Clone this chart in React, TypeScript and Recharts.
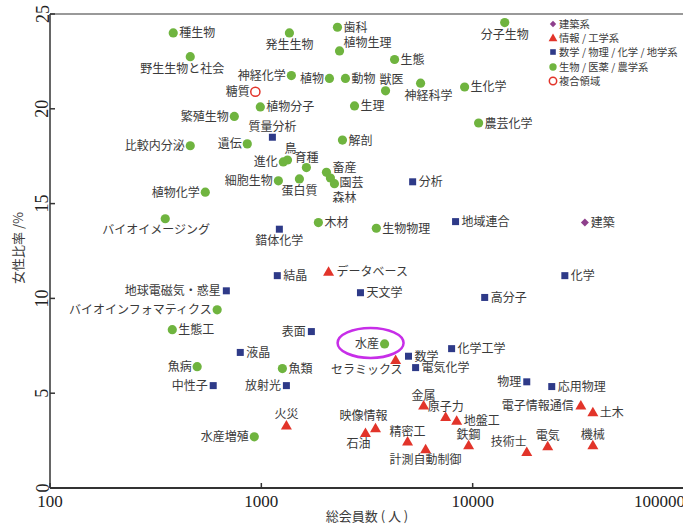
import React from 'react';
import { ScatterChart, Scatter, XAxis, YAxis, ReferenceLine, ReferenceDot } from 'recharts';

// ---- data ----
const xTicks = [100, 1000, 10000, 100000];
const yTicks = [0, 5, 10, 15, 20, 25];

const bioNames = ['種生物', '発生生物', '野生生物と社会', '神経化学', '植物', '植物分子', '繁殖生物', '比較内分泌', '遺伝', '進化', '鳥', '育種', '細胞生物', '蛋白質', '畜産', '園芸', '森林', '植物化学', 'バイオイメージング', '木材', '歯科', '植物生理', '分子生物', '生態', '動物', '獣医', '神経科学', '生化学', '生理', '農芸化学', '解剖', '生物物理', 'バイオインフォマティクス', '生態工', '魚病', '魚類', '水産', '水産増殖'];
const bioMembers = [383, 1358, 461, 1387, 2100, 989, 745, 461, 858, 1270, 1330, 1634, 1204, 1514, 2033, 2123, 2218, 543, 351, 1862, 2292, 2344, 14180, 4270, 2500, 3870, 5670, 9160, 2760, 10670, 2420, 3500, 618, 379, 497, 1258, 3830, 926];
const bioRatio = [24.0, 24.0, 22.75, 21.75, 21.6, 20.1, 19.6, 18.05, 18.15, 17.2, 17.3, 16.9, 16.2, 16.3, 16.65, 16.35, 16.05, 15.6, 14.2, 14.0, 24.3, 23.05, 24.55, 22.6, 21.6, 20.95, 21.35, 21.15, 20.15, 19.25, 18.35, 13.7, 9.4, 8.35, 6.4, 6.3, 7.6, 2.7];

const sciNames = ['質量分析', '錯体化学', '分析', '地域連合', '結晶', '地球電磁気・惑星', '表面', '液晶', '中性子', '放射光', '化学', '天文学', '高分子', '数学', '化学工学', '電気化学', '物理', '応用物理'];
const sciMembers = [1128, 1217, 5200, 8300, 1190, 683, 1725, 795, 592, 1314, 27300, 2945, 11400, 4970, 7950, 5370, 18030, 23670];
const sciRatio = [18.5, 13.65, 16.15, 14.05, 11.2, 10.4, 8.25, 7.15, 5.4, 5.4, 11.2, 10.3, 10.05, 6.95, 7.35, 6.35, 5.6, 5.35];

const engNames = ['データベース', 'セラミックス', '火災', '金属', '原子力', '地盤工', '電子情報通信', '土木', '映像情報', '石油', '精密工', '計測自動制御', '鉄鋼', '技術士', '電気', '機械'];
const engMembers = [2080, 4320, 1314, 5860, 7450, 8400, 32500, 37050, 3470, 3110, 4920, 5990, 9570, 18030, 22650, 37050];
const engRatio = [11.4, 6.75, 3.3, 4.35, 3.75, 3.55, 4.35, 4.0, 3.15, 2.9, 2.45, 2.05, 2.25, 1.9, 2.2, 2.25];

const archNames = ['建築'];
const archMembers = [33950];
const archRatio = [14.0];

const mixNames = ['糖質'];
const mixMembers = [937];
const mixRatio = [20.9];

const highlightName = '水産';

const legendLabels = ['建築系', '情報 / 工学系', '数学 / 物理 / 化学 / 地学系', '生物 / 医薬 / 農学系', '複合領域'];

// ---- build ----
type Pt = { name: string; members: number; ratio: number };
const build = (n: string[], m: number[], r: number[]): Pt[] => n.map((name, i) => ({ name, members: m[i], ratio: r[i] }));
const bioData = build(bioNames, bioMembers, bioRatio);
const sciData = build(sciNames, sciMembers, sciRatio);
const engData = build(engNames, engMembers, engRatio);
const archData = build(archNames, archMembers, archRatio);
const mixData = build(mixNames, mixMembers, mixRatio);
const hl = bioData.find((d) => d.name === highlightName)!;

// ---- styles ----
const GREEN = '#6fb43f';
const BLUE = '#2e3a88';
const RED = '#e2342a';
const PURPLE = '#8e3f8c';
const TEXT = '#3a3a3a';
const CJK = '"Noto Sans CJK JP", "Noto Sans", sans-serif';
const SERIF = '"Liberation Serif", "DejaVu Serif", serif';

type Anchor = 'start' | 'middle' | 'end';
const R: [number, number, Anchor] = [6, 4.5, 'start'];
const L: [number, number, Anchor] = [-5.5, 4.5, 'end'];
const T: [number, number, Anchor] = [0, -6, 'middle'];
const B: [number, number, Anchor] = [0, 16, 'middle'];

const labelLayout: Record<string, [number, number, Anchor]> = {
  種生物: R, 発生生物: B, 野生生物と社会: [-8, 16, 'middle'], 神経化学: L, 植物: L, 糖質: L, 植物分子: R,
  繁殖生物: L, 質量分析: T, 比較内分泌: L, 遺伝: L, 進化: L, 鳥: [3, -7, 'middle'], 育種: T, 細胞生物: L,
  蛋白質: B, 畜産: [6, 0, 'start'], 園芸: [9, 8.5, 'start'], 森林: [10, 18.5, 'middle'], 植物化学: L,
  バイオイメージング: [-9, 15, 'middle'], 錯体化学: B, 木材: R, 歯科: R, 植物生理: [4, -4, 'start'],
  分子生物: B, 生態: R, 動物: R, 獣医: [6, -7, 'middle'], 神経科学: [8, 17, 'middle'], 生化学: R, 生理: R,
  農芸化学: R, 解剖: R, 生物物理: R, 分析: R, 地域連合: R, 建築: R, 結晶: R, データベース: [8, 4.5, 'start'],
  地球電磁気・惑星: L, バイオインフォマティクス: L, 生態工: R, 表面: L, 液晶: R, 魚病: L, 魚類: R,
  中性子: L, 放射光: L, 火災: [0, -7, 'middle'], 水産増殖: L, 水産: L, 化学: R, 天文学: R, 高分子: R,
  セラミックス: [7, 14, 'end'], 数学: R, 化学工学: R, 電気化学: R, 物理: L, 応用物理: R,
  金属: [0, -6, 'middle'], 原子力: [0, -6, 'middle'], 地盤工: [7, 4.5, 'start'], 電子情報通信: [-7, 4.5, 'end'],
  土木: [7, 4.5, 'start'], 映像情報: [12, -8, 'end'], 石油: [5, 15, 'end'], 精密工: T, 計測自動制御: [0, 15, 'middle'],
  鉄鋼: T, 技術士: [0, -6, 'end'], 電気: T, 機械: T,
};

const Label = ({ cx, cy, name }: { cx: number; cy: number; name: string }) => {
  const [dx, dy, anchor] = labelLayout[name] || R;
  return (
    <text x={cx + dx} y={cy + dy} textAnchor={anchor} fontSize={12} fontFamily={CJK} fill={TEXT}>
      {name}
    </text>
  );
};

type Kind = 'circle' | 'square' | 'triangle' | 'diamond' | 'open';
const Marker = ({ kind, cx, cy, s = 1 }: { kind: Kind; cx: number; cy: number; s?: number }) => {
  if (kind === 'circle') return <circle cx={cx} cy={cy} r={4.6 * s} fill={GREEN} />;
  if (kind === 'square') return <rect x={cx - 3.5 * s} y={cy - 3.5 * s} width={7 * s} height={7 * s} fill={BLUE} />;
  if (kind === 'triangle')
    return <polygon points={`${cx},${cy - 5.5 * s} ${cx + 5.5 * s},${cy + 4 * s} ${cx - 5.5 * s},${cy + 4 * s}`} fill={RED} />;
  if (kind === 'diamond')
    return <polygon points={`${cx},${cy - 4 * s} ${cx + 4 * s},${cy} ${cx},${cy + 4 * s} ${cx - 4 * s},${cy}`} fill={PURPLE} />;
  return <circle cx={cx} cy={cy} r={4.6 * s} fill="#fff" stroke={RED} strokeWidth={1.5} />;
};

const makeShape = (kind: Kind) => (props: any) => {
  const { cx, cy, payload } = props;
  if (cx == null || cy == null) return <g />;
  return (
    <g>
      <Marker kind={kind} cx={cx} cy={cy} />
      <Label cx={cx} cy={cy} name={payload.name} />
    </g>
  );
};

const XTick = (props: any) => {
  const { x, y, payload, index } = props;
  const last = index === xTicks.length - 1;
  return (
    <text x={last ? x + 1 : x} y={y + 24} textAnchor={last ? 'end' : 'middle'} fontSize={17} fontFamily={SERIF} fill="#222">
      {payload.value}
    </text>
  );
};

const YTick = (props: any) => {
  const { x, y, payload } = props;
  const bx = x - 6.5;
  return (
    <text x={bx} y={y} transform={`rotate(-90, ${bx}, ${y})`} textAnchor="middle" fontSize={18} fontFamily={SERIF} fill="#222">
      {payload.value}
    </text>
  );
};

const legendKinds: Kind[] = ['diamond', 'triangle', 'square', 'circle', 'open'];

export default function App() {
  return (
    <div style={{ position: 'absolute', left: 0, top: 0, width: 683, height: 525, overflow: 'hidden', background: '#fff' }}>
      <ScatterChart width={700} height={525} margin={{ top: 14, right: 16, bottom: 0, left: 0 }}>
        <XAxis
          type="number"
          dataKey="members"
          scale="log"
          domain={[100, 100000]}
          ticks={xTicks}
          interval={0}
          height={37}
          tickSize={-5}
          tickMargin={0}
          tick={<XTick />}
          axisLine={{ stroke: '#333', strokeWidth: 2 }}
          tickLine={{ stroke: '#333', strokeWidth: 1.5 }}
          label={{ value: '総会員数 ( 人 )', position: 'insideBottom', offset: 4, fontSize: 13, fontFamily: CJK, fill: TEXT }}
        />
        <YAxis
          type="number"
          dataKey="ratio"
          domain={[0, 25]}
          ticks={yTicks}
          interval={0}
          width={50}
          tickSize={-5}
          tickMargin={0}
          tick={<YTick />}
          axisLine={{ stroke: '#333', strokeWidth: 1.5 }}
          tickLine={{ stroke: '#333', strokeWidth: 1.5 }}
          label={{
            content: (p: any) => {
              const vb = p.viewBox || { x: 0, y: 14, width: 50, height: 474 };
              const cy = vb.y + vb.height / 2 - 3;
              const cx = 17;
              return (
                <text x={cx} y={cy} transform={`rotate(-90, ${cx}, ${cy})`} textAnchor="middle" dominantBaseline="central" fontSize={13} fontFamily={CJK} fill={TEXT}>
                  女性比率 /%
                </text>
              );
            },
          }}
        />
        <ReferenceLine y={25} stroke="#999" strokeWidth={2} />
        <Scatter name="建築系" data={archData} shape={makeShape('diamond')} isAnimationActive={false} />
        <Scatter name="情報 / 工学系" data={engData} shape={makeShape('triangle')} isAnimationActive={false} />
        <Scatter name="数学 / 物理 / 化学 / 地学系" data={sciData} shape={makeShape('square')} isAnimationActive={false} />
        <Scatter name="生物 / 医薬 / 農学系" data={bioData} shape={makeShape('circle')} isAnimationActive={false} />
        <Scatter name="複合領域" data={mixData} shape={makeShape('open')} isAnimationActive={false} />
        <ReferenceDot
          x={hl.members}
          y={hl.ratio}
          shape={(p: any) => (
            <ellipse cx={p.cx - 14} cy={p.cy - 1} rx={33} ry={15} fill="none" stroke="#c72ee8" strokeWidth={2.5} />
          )}
        />
      </ScatterChart>
      <div style={{ position: 'absolute', left: 548, top: 17, fontFamily: CJK, fontSize: 10.3, color: TEXT, lineHeight: '14.2px', whiteSpace: 'nowrap' }}>
        {legendLabels.map((lab, i) => (
          <div key={lab} style={{ display: 'flex', alignItems: 'center', height: 14.2, whiteSpace: 'nowrap' }}>
            <svg width={10} height={10} style={{ marginRight: 1, flexShrink: 0 }}>
              <Marker kind={legendKinds[i]} cx={5} cy={5} s={0.8} />
            </svg>
            <span>{lab}</span>
          </div>
        ))}
      </div>
    </div>
  );
}
